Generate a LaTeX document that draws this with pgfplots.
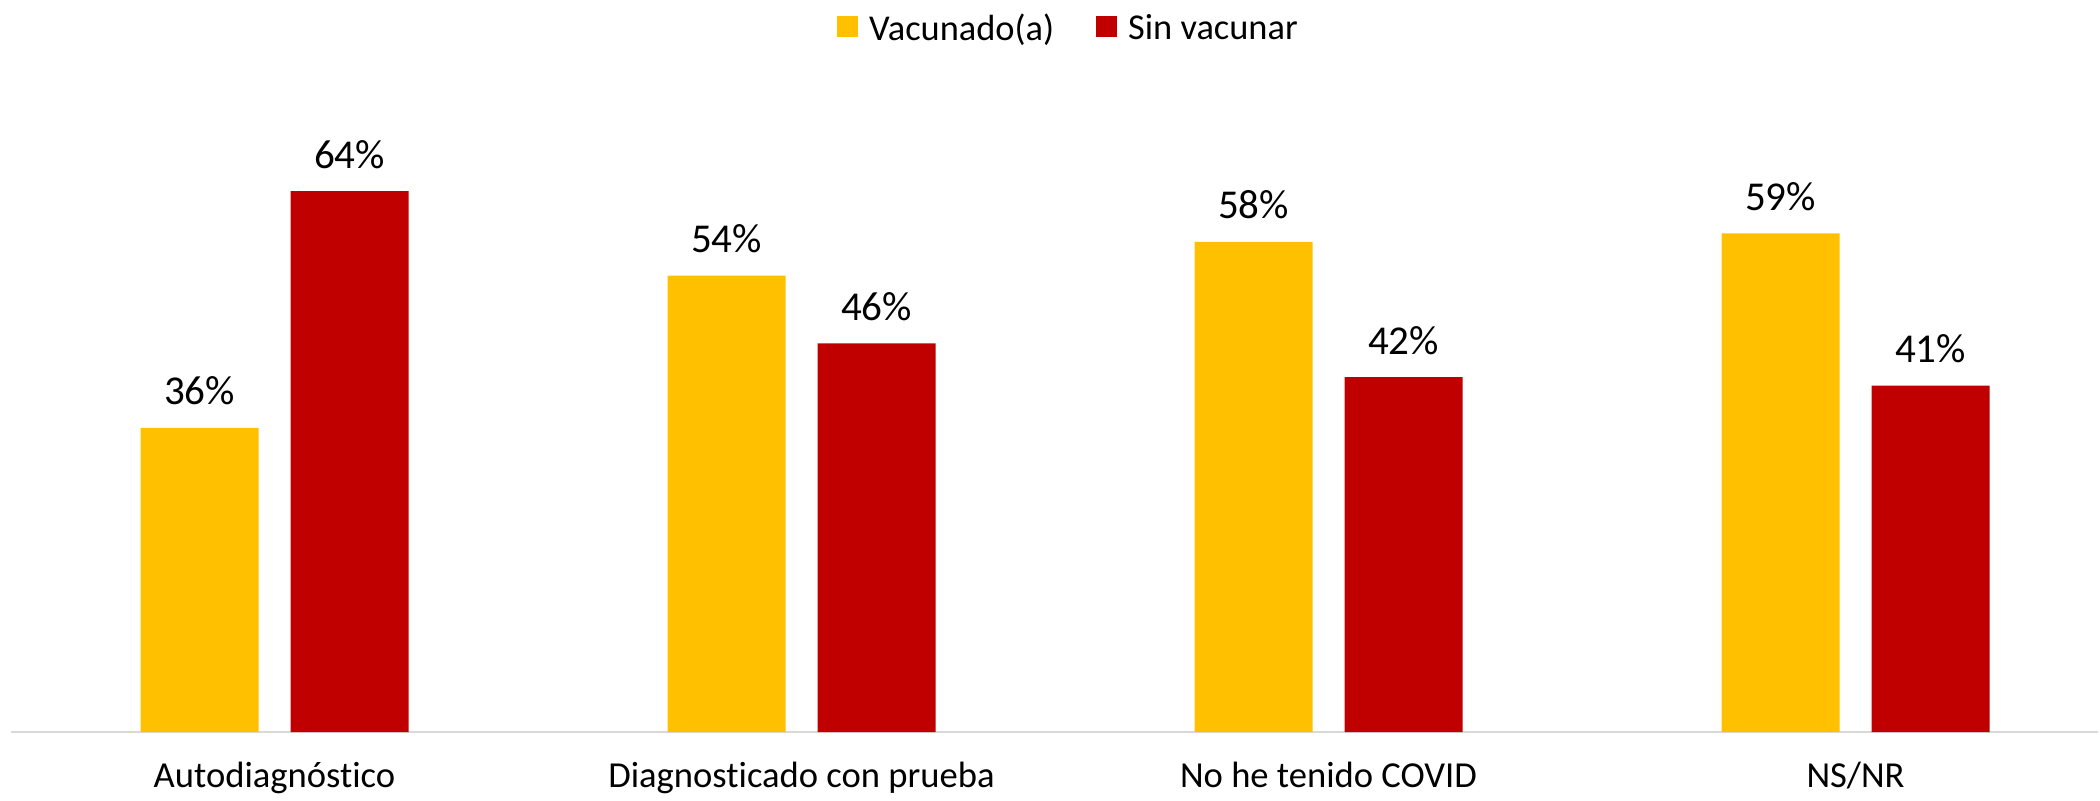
\documentclass[border=0pt]{standalone}
\usepackage{pgfplots}
\pgfplotsset{compat=1.18}
\usepackage{fontspec}
\setmainfont{Carlito}[Ligatures=NoCommon]
\definecolor{vacgold}{HTML}{FFC000}
\definecolor{sinred}{HTML}{C00000}
\definecolor{axisgray}{HTML}{D9D9D9}
\begin{document}
\begin{tikzpicture}
\useasboundingbox (0,0) rectangle (1050pt,400pt);
\begin{axis}[
  at={(5.5pt,34pt)}, anchor=south west,
  scale only axis, width=1043.5pt, height=316.9pt,
  xmin=-0.5, xmax=3.46, ymin=0, ymax=75,
  /pgf/number format/assume math mode=true,
  ybar=16pt, bar width=59pt,
  axis x line*=bottom, axis y line=none,
  x axis line style={draw=axisgray, line width=1.2pt, -},
  xtick={0,1,2,3},
  xticklabels={Autodiagnóstico, Diagnosticado con prueba, No he tenido COVID, NS/NR},
  xtick style={draw=none},
  xticklabel style={font=\fontsize{18.3}{20}\selectfont, anchor=base, yshift=-23.5pt},
  nodes near coords={\pgfmathprintnumber{\pgfplotspointmeta}\%},
  nodes near coords style={font=\fontsize{20.5}{22}\selectfont, anchor=base, yshift=11.5pt, text=black},
  legend columns=2,
  legend style={draw=none, at={(axis description cs:0.5,1)}, anchor=center,
    xshift=7.5pt, yshift=35pt,
    font=\fontsize{18.2}{20}\selectfont,
    /tikz/every odd column/.append style={column sep=3.5pt},
    /tikz/every even column/.append style={column sep=19pt}},
  legend image code/.code={\fill[#1] (0pt,-4.5pt) rectangle (10.5pt,6pt);},
]
\addplot[fill=vacgold, draw=none] coordinates {(0,36) (1,54) (2,58) (3,59)};
\addplot[fill=sinred, draw=none] coordinates {(0,64) (1,46) (2,42) (3,41)};
\legend{Vacunado(a), Sin vacunar}
\end{axis}
\end{tikzpicture}
\end{document}
